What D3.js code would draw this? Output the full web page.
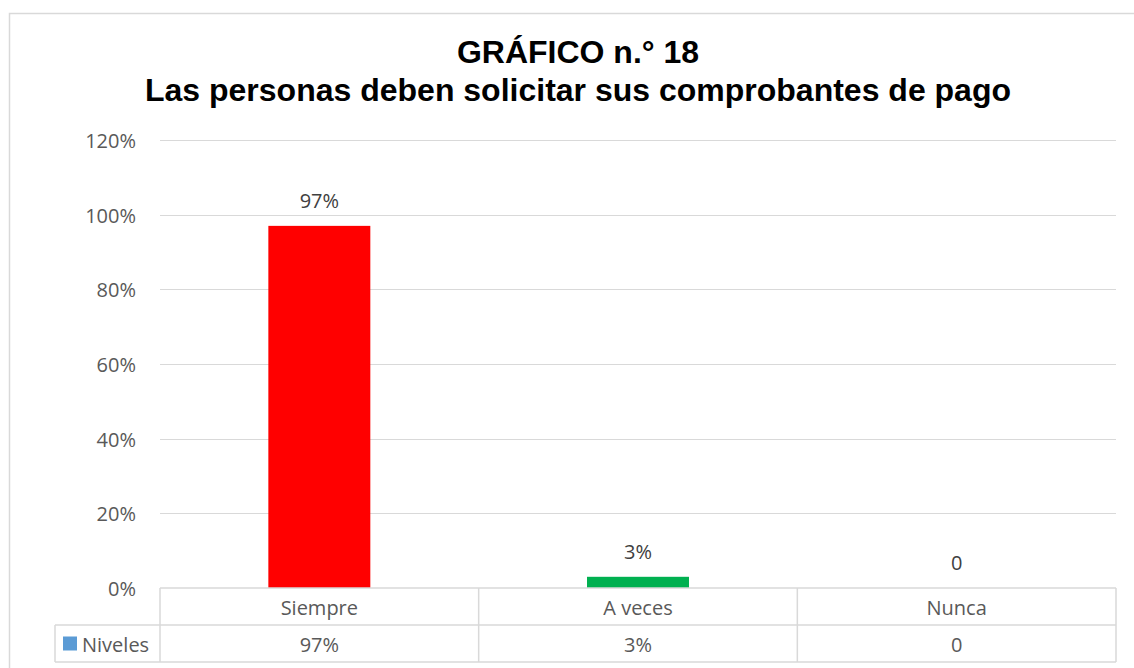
<!DOCTYPE html>
<html>
<head>
<meta charset="utf-8">
<script src="https://cdn.jsdelivr.net/npm/d3@7"></script>
<style>
  body { margin: 0; background: #fff; }
  svg text { font-family: "Open Sans", "Noto Sans", sans-serif; }
</style>
</head>
<body>
<svg id="chart" width="1134" height="668"></svg>
<script>
const categories = ["Siempre", "A veces", "Nunca"];
const values = [0.97, 0.03, 0];
const valueLabels = ["97%", "3%", "0"];
const barColors = ["#ff0000", "#00b050", "#5b9bd5"];
const yTicks = [0, 0.2, 0.4, 0.6, 0.8, 1.0, 1.2];
const seriesName = "Niveles";
const titleLines = ["GRÁFICO n.° 18", "Las personas deben solicitar sus comprobantes de pago"];

const svg = d3.select("#chart");
const plot = {left: 160, right: 1116, top: 140, bottom: 588};
const rowH = 37;
const fs = "20px";

// chart frame
svg.append("rect")
  .attr("x", 9.5).attr("y", 13.5)
  .attr("width", 1140).attr("height", 700)
  .attr("fill", "#fff").attr("stroke", "#d9d9d9").attr("stroke-width", 1.5);

// title
svg.append("g").selectAll("text")
  .data(titleLines)
  .enter().append("text")
  .attr("x", 578)
  .attr("y", (d, i) => 63 + i * 38)
  .attr("text-anchor", "middle")
  .style("font-family", "'Liberation Sans', Arial, sans-serif")
  .style("font-weight", "bold")
  .style("font-size", "32px")
  .attr("fill", "#000")
  .text(d => d);

const x = d3.scaleBand()
  .domain(categories)
  .range([plot.left, plot.right])
  .paddingInner(0).paddingOuter(0);

const y = d3.scaleLinear()
  .domain([0, 1.2])
  .range([plot.bottom, plot.top]);

// gridlines
svg.append("g").selectAll("line")
  .data(yTicks.slice(1))
  .enter().append("line")
  .attr("x1", plot.left).attr("x2", plot.right)
  .attr("y1", d => Math.round(y(d)) + 0.5).attr("y2", d => Math.round(y(d)) + 0.5)
  .attr("stroke", "#d9d9d9").attr("stroke-width", 1);

// y axis labels
const yAxis = d3.axisLeft(y)
  .tickValues(yTicks)
  .tickFormat(d3.format(".0%"))
  .tickSize(0).tickPadding(0);
const yg = svg.append("g")
  .attr("transform", `translate(${plot.left - 24},1)`)
  .call(yAxis);
yg.select(".domain").remove();
yg.selectAll("text")
  .style("font-size", fs)
  .style("font-family", "'Open Sans', sans-serif")
  .attr("fill", "#595959");

// bars
const barW = x.bandwidth() * 0.32;
svg.append("g").selectAll("rect")
  .data(values)
  .enter().append("rect")
  .attr("x", (d, i) => x(categories[i]) + x.bandwidth() / 2 - barW / 2)
  .attr("y", d => y(d))
  .attr("width", barW)
  .attr("height", d => y(0) - y(d))
  .attr("fill", (d, i) => barColors[i]);

// data labels
svg.append("g").selectAll("text")
  .data(values)
  .enter().append("text")
  .attr("x", (d, i) => x(categories[i]) + x.bandwidth() / 2)
  .attr("y", d => y(d) - 18)
  .attr("text-anchor", "middle")
  .style("font-size", fs)
  .attr("fill", "#404040")
  .text((d, i) => valueLabels[i]);

// data table
const tbl = svg.append("g").attr("stroke", "#d9d9d9").attr("stroke-width", 1.5).attr("fill", "none");
tbl.append("line").attr("x1", plot.left).attr("x2", plot.right).attr("y1", plot.bottom).attr("y2", plot.bottom);
tbl.append("line").attr("x1", 55).attr("x2", plot.right).attr("y1", plot.bottom + rowH).attr("y2", plot.bottom + rowH);
tbl.append("line").attr("x1", 55).attr("x2", plot.right).attr("y1", plot.bottom + 2 * rowH).attr("y2", plot.bottom + 2 * rowH);
tbl.append("line").attr("x1", 55).attr("x2", 55).attr("y1", plot.bottom + rowH).attr("y2", plot.bottom + 2 * rowH);
tbl.selectAll(".vline")
  .data(categories.concat(["end"]))
  .enter().append("line")
  .attr("x1", (d, i) => plot.left + i * x.bandwidth())
  .attr("x2", (d, i) => plot.left + i * x.bandwidth())
  .attr("y1", plot.bottom).attr("y2", plot.bottom + 2 * rowH);

svg.append("g").selectAll("text")
  .data(categories)
  .enter().append("text")
  .attr("x", d => x(d) + x.bandwidth() / 2)
  .attr("y", plot.bottom + rowH / 2 + 1)
  .attr("dy", "0.35em")
  .attr("text-anchor", "middle")
  .style("font-size", fs)
  .attr("fill", "#595959")
  .text(d => d);

svg.append("g").selectAll("text")
  .data(valueLabels)
  .enter().append("text")
  .attr("x", (d, i) => x(categories[i]) + x.bandwidth() / 2)
  .attr("y", plot.bottom + rowH * 1.5 + 1)
  .attr("dy", "0.35em")
  .attr("text-anchor", "middle")
  .style("font-size", fs)
  .attr("fill", "#595959")
  .text(d => d);

// legend key in table
svg.append("rect")
  .attr("x", 63).attr("y", plot.bottom + rowH * 1.5 - 7)
  .attr("width", 14).attr("height", 14)
  .attr("fill", "#5b9bd5");
svg.append("text")
  .attr("x", 82).attr("y", plot.bottom + rowH * 1.5 + 1)
  .attr("dy", "0.35em")
  .style("font-size", fs)
  .attr("fill", "#595959")
  .text(seriesName);
</script>
</body>
</html>
